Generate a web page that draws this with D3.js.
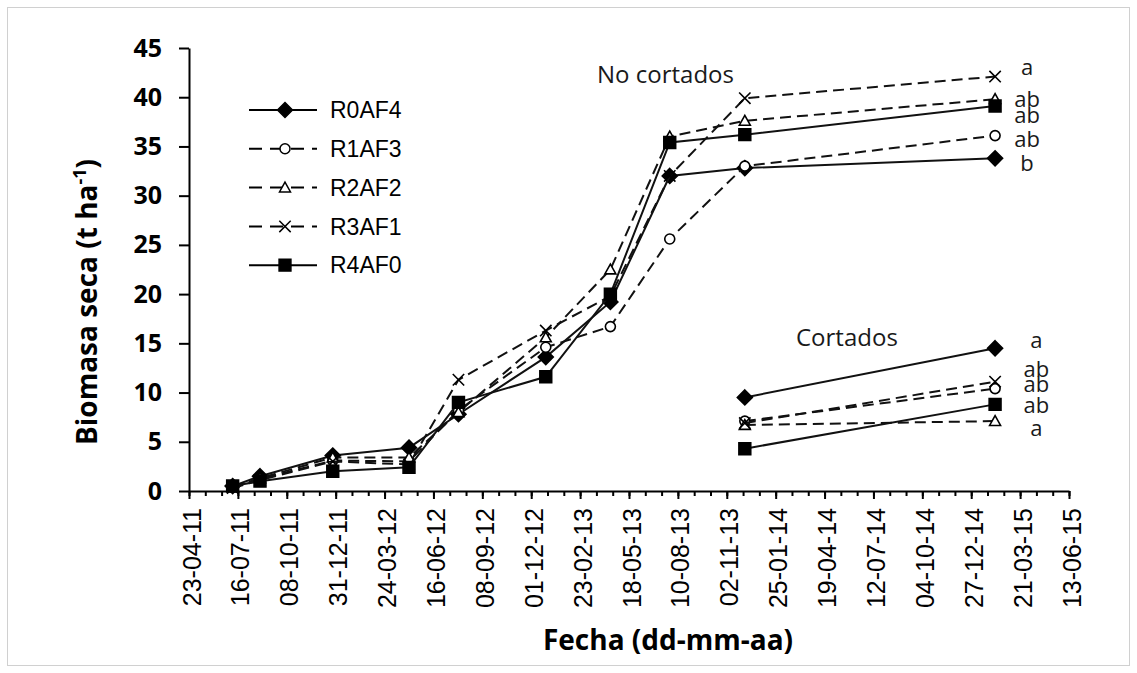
<!DOCTYPE html>
<html>
<head>
<meta charset="utf-8">
<script src="https://cdn.jsdelivr.net/npm/d3@7"></script>
<style>
  body { margin: 0; background: #fff; }
  svg { display: block; }
  .tick-x text { font-family: "Liberation Sans", Arial, sans-serif; font-size: 25px; }
  .tick-y text { font-family: "Open Sans", sans-serif; font-weight: bold; font-size: 25px; }
  .axis path, .axis line { stroke: #000; stroke-width: 2; }
  .titulo { font-family: "Open Sans", sans-serif; font-weight: bold; font-size: 28px; }
  .nota { font-family: "Open Sans", sans-serif; font-size: 24px; fill: #1a1a1a; }
  .letra { font-family: "Open Sans", sans-serif; font-size: 22px; fill: #1a1a1a; }
  .leyenda { font-family: "Liberation Sans", Arial, sans-serif; font-size: 23px; }
</style>
</head>
<body>
<div id="chart"></div>
<script>
// fechas de muestreo
const fechas = ["2011-07-07", "2011-08-23", "2011-12-26", "2012-05-05", "2012-07-29",
                "2012-12-26", "2013-04-16", "2013-07-27", "2013-12-03", "2015-02-06"];
const fechasCortados = ["2013-12-03", "2015-02-06"];

const tratamientos = ["R0AF4", "R1AF3", "R2AF2", "R3AF1", "R4AF0"];

// no cortados (t ha-1)
const noCortR0AF4 = [0.5, 1.5, 3.6, 4.4, 7.8, 13.6, 19.2, 32.0, 32.8, 33.8];
const noCortR1AF3 = [0.4, 1.2, 3.1, 3.0, 8.2, 14.6, 16.7, 25.6, 33.0, 36.1];
const noCortR2AF2 = [0.4, 1.3, 3.4, 3.4, 8.0, 15.6, 22.5, 36.0, 37.6, 39.8];
const noCortR3AF1 = [0.3, 1.1, 3.0, 2.7, 11.3, 16.3, 19.8, 32.0, 39.9, 42.1];
const noCortR4AF0 = [0.5, 1.0, 2.0, 2.4, 9.0, 11.6, 20.0, 35.4, 36.2, 39.1];

// cortados (t ha-1)
const cortR0AF4 = [9.5, 14.5];
const cortR1AF3 = [7.1, 10.4];
const cortR2AF2 = [6.7, 7.1];
const cortR3AF1 = [6.9, 11.1];
const cortR4AF0 = [4.3, 8.8];

// letras de significancia
const letrasNoCort = ["a", "ab", "ab", "ab", "b"];
const letrasNoCortY = [43.0, 39.8, 38.2, 35.7, 33.3];
const letrasCort = ["a", "ab", "ab", "ab", "a"];
const letrasCortY = [15.3, 12.4, 10.8, 8.7, 6.4];

const yTicks = [0, 5, 10, 15, 20, 25, 30, 35, 40, 45];

const W = 1137, H = 673;
const M = { left: 189, right: 1069, top: 48, bottom: 491 };

const parse = d3.utcParse("%Y-%m-%d");
const fmt = d3.utcFormat("%d-%m-%y");
const inicio = parse("2011-04-23"), fin = parse("2015-06-13");

const x = d3.scaleUtc().domain([inicio, fin]).range([M.left, M.right]);
const y = d3.scaleLinear().domain([0, 45]).range([M.bottom, M.top]);

const svg = d3.select('#chart').append('svg')
  .attr('width', W).attr('height', H);

svg.append('rect')
  .attr('x', 7.5).attr('y', 7.5).attr('width', W - 15).attr('height', H - 15)
  .attr('fill', 'none').attr('stroke', '#d0d0d0');

// marcadores estilo Excel
const diamond = { draw(ctx, s) { const r = Math.sqrt(s) / 2;
  ctx.moveTo(0, -r); ctx.lineTo(r, 0); ctx.lineTo(0, r); ctx.lineTo(-r, 0); ctx.closePath(); } };
const square = { draw(ctx, s) { const r = Math.sqrt(s) / 2;
  ctx.rect(-r, -r, 2 * r, 2 * r); } };
const tri = { draw(ctx, s) { const r = Math.sqrt(s) / 2;
  ctx.moveTo(0, -r); ctx.lineTo(r, r * 0.8); ctx.lineTo(-r, r * 0.8); ctx.closePath(); } };
const cross = { draw(ctx, s) { const r = Math.sqrt(s) / 2;
  ctx.moveTo(-r, -r); ctx.lineTo(r, r); ctx.moveTo(r, -r); ctx.lineTo(-r, r); } };
const circ = { draw(ctx, s) { const r = Math.sqrt(s) / 2;
  ctx.moveTo(r, 0); ctx.arc(0, 0, r, 0, 2 * Math.PI); } };

const estilos = {
  R0AF4: { sym: diamond, size: 225, fill: '#000', dash: null },
  R1AF3: { sym: circ, size: 100, fill: '#fff', dash: '11,6' },
  R2AF2: { sym: tri, size: 120, fill: '#fff', dash: '11,6' },
  R3AF1: { sym: cross, size: 130, fill: 'none', dash: '11,6' },
  R4AF0: { sym: square, size: 140, fill: '#000', dash: null }
};

const noCort = [noCortR0AF4, noCortR1AF3, noCortR2AF2, noCortR3AF1, noCortR4AF0];
const cort = [cortR0AF4, cortR1AF3, cortR2AF2, cortR3AF1, cortR4AF0];

// ejes
const mayores = d3.range(0, 1513, 84).map(d => d3.utcDay.offset(inicio, d));
const menores = d3.range(0, 1513, 28).map(d => d3.utcDay.offset(inicio, d));

svg.append('g').attr('class', 'axis')
  .attr('transform', `translate(0,${M.bottom})`)
  .call(d3.axisBottom(x).tickValues(menores).tickSize(5).tickFormat('').tickSizeOuter(0));

const gx = svg.append('g').attr('class', 'axis tick-x')
  .attr('transform', `translate(0,${M.bottom})`)
  .call(d3.axisBottom(x).tickValues(mayores).tickSize(8).tickFormat(fmt).tickSizeOuter(0));
gx.select('.domain').remove();
gx.selectAll('text')
  .attr('transform', 'rotate(-90)')
  .attr('text-anchor', 'end')
  .attr('x', -17).attr('y', 2).attr('dy', '0.36em')
  .attr('fill', '#000');

const gy = svg.append('g').attr('class', 'axis tick-y')
  .attr('transform', `translate(${M.left},0)`)
  .call(d3.axisLeft(y).tickValues(yTicks).tickSize(10).tickSizeOuter(0));
gy.selectAll('text').attr('x', -27).attr('fill', '#000');

// titulos de ejes
svg.append('text').attr('class', 'titulo')
  .attr('x', 668).attr('y', 650).attr('text-anchor', 'middle')
  .text('Fecha (dd-mm-aa)');

const yt = svg.append('text').attr('class', 'titulo')
  .attr('font-size', '30px')
  .attr('transform', 'translate(97,302) rotate(-90)')
  .attr('text-anchor', 'middle');
yt.append('tspan').text('Biomasa seca (t ha');
yt.append('tspan').attr('font-size', '18px').attr('dy', '-11').text('-1');
yt.append('tspan').attr('dy', '11').text(')');

// series
const linea = d3.line().x(d => x(d.f)).y(d => y(d.v));

function dibujar(fs, grupos) {
  grupos.forEach((vals, i) => {
    const st = estilos[tratamientos[i]];
    const pts = vals.map((v, j) => ({ f: parse(fs[j]), v }));
    svg.append('path').datum(pts)
      .attr('d', linea)
      .attr('fill', 'none')
      .attr('stroke', '#111')
      .attr('stroke-width', 2)
      .attr('stroke-dasharray', st.dash);
    svg.append('g').selectAll('path').data(pts).join('path')
      .attr('transform', d => `translate(${x(d.f)},${y(d.v)})`)
      .attr('d', d3.symbol().type(st.sym).size(st.size))
      .attr('fill', st.fill)
      .attr('stroke', '#000')
      .attr('stroke-width', 1.6);
  });
}
dibujar(fechas, noCort);
dibujar(fechasCortados, cort);

// letras
svg.append('g').selectAll('text').data(letrasNoCort).join('text')
  .attr('class', 'letra')
  .attr('x', x(parse("2015-04-02")))
  .attr('y', (d, i) => y(letrasNoCortY[i]))
  .attr('dy', '0.35em').attr('text-anchor', 'middle')
  .text(d => d);
svg.append('g').selectAll('text').data(letrasCort).join('text')
  .attr('class', 'letra')
  .attr('x', x(parse("2015-04-18")))
  .attr('y', (d, i) => y(letrasCortY[i]))
  .attr('dy', '0.35em').attr('text-anchor', 'middle')
  .text(d => d);

svg.append('text').attr('class', 'nota')
  .attr('x', 597).attr('y', 83).text('No cortados');
svg.append('text').attr('class', 'nota')
  .attr('x', 796).attr('y', 346).text('Cortados');

// leyenda
const ley = svg.append('g').attr('transform', 'translate(249,110)');
tratamientos.forEach((t, i) => {
  const st = estilos[t];
  const g = ley.append('g').attr('transform', `translate(0,${i * 38.8})`);
  g.append('line').attr('x1', 0).attr('x2', 68)
    .attr('stroke', '#000').attr('stroke-width', 2)
    .attr('stroke-dasharray', st.dash ? '13,8' : null);
  g.append('path').attr('transform', 'translate(36,0)')
    .attr('d', d3.symbol().type(st.sym).size(st.size))
    .attr('fill', st.fill).attr('stroke', '#000').attr('stroke-width', 1.5);
  g.append('text').attr('class', 'leyenda')
    .attr('x', 81).attr('dy', '0.36em').text(t);
});
</script>
</body>
</html>
